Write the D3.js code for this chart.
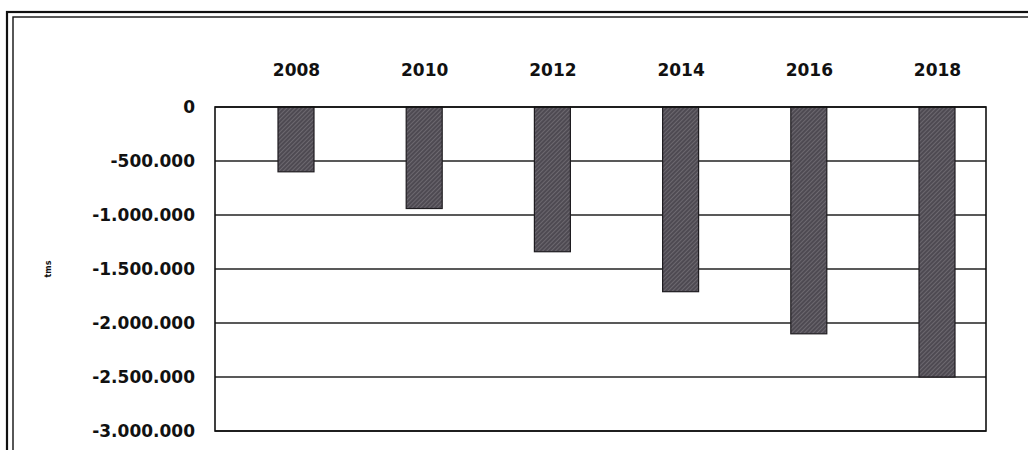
<!DOCTYPE html>
<html>
<head>
<meta charset="utf-8">
<script src="https://cdn.jsdelivr.net/npm/d3@7"></script>
<style>
  body { margin: 0; background: #fff; }
  text { font-family: "DejaVu Sans", Arial, sans-serif; font-weight: bold; fill: #111; }
</style>
</head>
<body>
<svg id="chart"></svg>
<script>
var years = ["2008", "2010", "2012", "2014", "2016", "2018"];
var values = [-600000, -940000, -1340000, -1710000, -2100000, -2500000];
var yTicks = [0, -500000, -1000000, -1500000, -2000000, -2500000, -3000000];
var yTitle = "tms";

var W = 1028, H = 450;
var margin = {top: 107, right: 42, bottom: 19, left: 215};
var width = W - margin.left - margin.right;
var height = H - margin.top - margin.bottom;

var svg = d3.select("#chart")
    .attr("width", W)
    .attr("height", H);

// hatched fill for the bars
var defs = svg.append("defs");
var pat = defs.append("pattern")
    .attr("id", "hatch")
    .attr("patternUnits", "userSpaceOnUse")
    .attr("width", 3)
    .attr("height", 3)
    .attr("patternTransform", "rotate(45)");
pat.append("rect").attr("width", 3).attr("height", 3).attr("fill", "#4e4a52");
pat.append("line")
    .attr("x1", 0).attr("y1", 0).attr("x2", 0).attr("y2", 3)
    .attr("stroke", "#8a868c").attr("stroke-width", 1);

// double frame round the whole picture
svg.append("rect")
    .attr("x", 7).attr("y", 12).attr("width", W + 20).attr("height", H + 20)
    .attr("fill", "none").attr("stroke", "#111").attr("stroke-width", 2.2);
svg.append("rect")
    .attr("x", 13).attr("y", 17).attr("width", W + 20).attr("height", H + 20)
    .attr("fill", "none").attr("stroke", "#111").attr("stroke-width", 1.4);

var g = svg.append("g")
    .attr("transform", "translate(" + margin.left + "," + margin.top + ")");

var xScale = d3.scalePoint()
    .domain(years)
    .range([81, 722]);

var yScale = d3.scaleLinear()
    .domain([0, -3000000])
    .range([0, height]);

var fmt = function(d){
    return d3.format(",")(d).replace(/,/g, ".").replace("−", "-");
};

// grid lines
g.append("g")
    .selectAll("line")
    .data(yTicks)
    .enter().append("line")
    .attr("x1", 0)
    .attr("x2", width)
    .attr("y1", function(d){ return yScale(d); })
    .attr("y2", function(d){ return yScale(d); })
    .attr("stroke", "#222")
    .attr("stroke-width", 1.4);

// bars
var barW = 36;
g.append("g")
    .selectAll("rect")
    .data(values)
    .enter().append("rect")
    .attr("x", function(d, i){ return xScale(years[i]) - barW / 2; })
    .attr("y", yScale(0))
    .attr("width", barW)
    .attr("height", function(d){ return yScale(d) - yScale(0); })
    .attr("fill", "url(#hatch)")
    .attr("stroke", "#1e1c20")
    .attr("stroke-width", 1.2);

// plot frame
g.append("rect")
    .attr("x", 0).attr("y", 0)
    .attr("width", width).attr("height", height)
    .attr("fill", "none")
    .attr("stroke", "#111")
    .attr("stroke-width", 1.6);

// y axis labels
var yAxis = g.append("g")
    .call(d3.axisLeft(yScale)
        .tickValues(yTicks)
        .tickSize(0)
        .tickPadding(20)
        .tickFormat(fmt));
yAxis.select(".domain").remove();
yAxis.selectAll("text")
    .style("font-size", "17px")
    .style("font-family", "'DejaVu Sans', Arial, sans-serif")
    .style("font-weight", "bold")
    .attr("fill", "#111");

// year labels on top
var xAxis = g.append("g")
    .attr("transform", "translate(0,-37)")
    .call(d3.axisTop(xScale).tickSize(0).tickPadding(0));
xAxis.select(".domain").remove();
xAxis.selectAll("text")
    .style("font-size", "17px")
    .style("font-family", "'DejaVu Sans', Arial, sans-serif")
    .style("font-weight", "bold")
    .attr("fill", "#111")
    .attr("dy", "0.35em");

// tiny axis title
svg.append("text")
    .attr("transform", "translate(48," + (margin.top + yScale(-1500000)) + ") rotate(-90)")
    .attr("text-anchor", "middle")
    .attr("dy", "0.35em")
    .style("font-size", "8px")
    .text(yTitle);
</script>
</body>
</html>
